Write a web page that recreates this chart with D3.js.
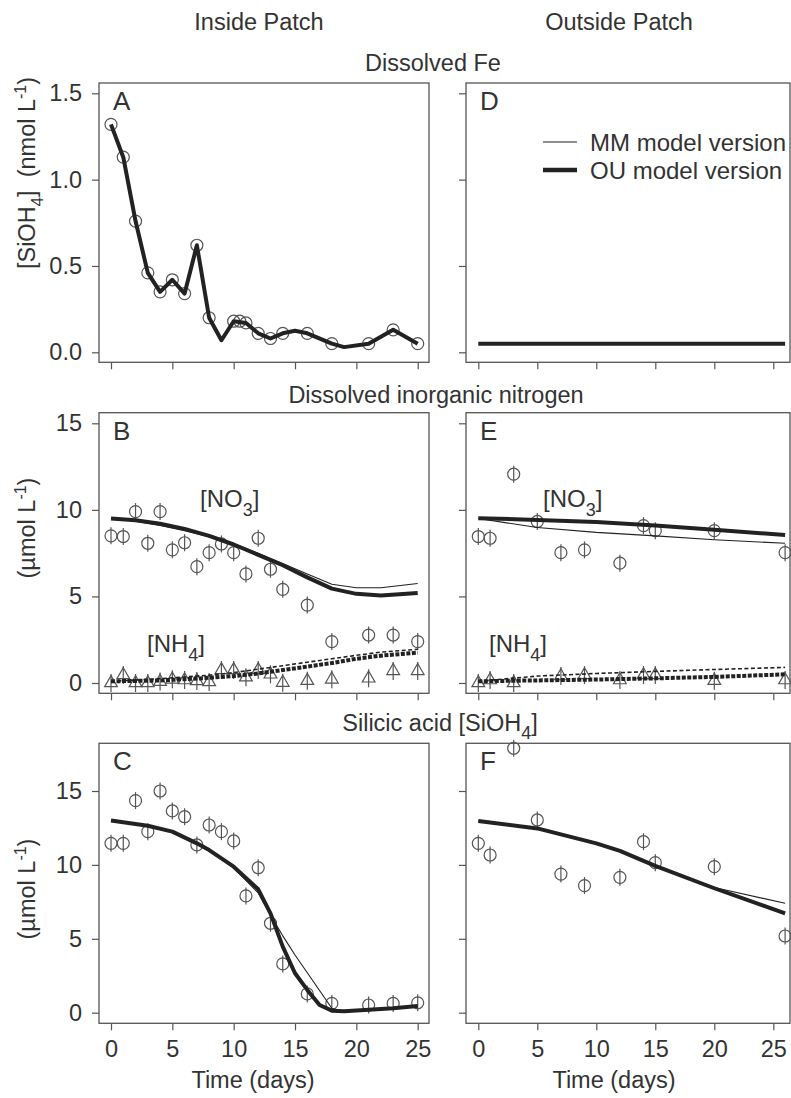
<!DOCTYPE html>
<html><head><meta charset="utf-8">
<script src="https://cdn.jsdelivr.net/npm/d3@7"></script>
<style>
body{margin:0;background:#fff;}
text{font-family:"Liberation Sans",Arial,Helvetica,sans-serif;fill:#333;}
</style></head>
<body><svg id="c" width="791" height="1098"></svg>
<script>
// ---------- DATA ----------
const xTicks = [0,5,10,15,20,25];
const feTicks = [0,0.5,1,1.5];
const nTicks = [0,5,10,15];
const siTicks = [0,5,10,15];

// Panel A: dissolved Fe inside patch
const feInObsDay = [0,1,2,3,4,5,6,7,8,10,10.5,11,12,13,14,16,18,21,23,25];
const feInObs    = [1.32,1.13,0.76,0.46,0.35,0.42,0.34,0.62,0.20,0.18,0.18,0.17,0.11,0.08,0.11,0.11,0.05,0.05,0.13,0.05];
const feInModDay = [0,1,2,3,4,5,6,7,8,9,10,11,12,13,14,15,16,18,19,21,23,25];
const feInOU     = [1.32,1.13,0.76,0.46,0.35,0.42,0.34,0.62,0.20,0.07,0.18,0.17,0.11,0.08,0.11,0.125,0.11,0.05,0.03,0.05,0.13,0.05];
// Panel D: dissolved Fe outside patch
const feOutModDay = [0,26];
const feOutOU     = [0.05,0.05];

// Panel B: nitrogen inside
const no3InDay = [0,1,2,3,4,5,6,7,8,9,10,11,12,13,14,16,18,21,23,25];
const no3InObs = [8.5,8.46,9.9,8.07,9.9,7.69,8.1,6.72,7.53,8.03,7.53,6.3,8.36,6.57,5.41,4.5,2.39,2.77,2.77,2.39];
const nh4InDay = [0,1,2,3,4,5,6,7,8,9,10,11,12,13,14,16,18,21,23,25];
const nh4InObs = [0.0,0.46,0.0,0.0,0.08,0.21,0.17,0.12,0.06,0.75,0.75,0.33,0.75,0.5,0.02,0.13,0.21,0.27,0.7,0.7];
const nInModDay = [0,2,4,6,8,10,12,14,16,18,20,22,25];
const no3InOU = [9.5,9.4,9.2,8.9,8.5,8.0,7.4,6.8,6.1,5.45,5.15,5.05,5.2];
const no3InMM = [9.5,9.35,9.1,8.8,8.45,8.05,7.5,6.9,6.3,5.7,5.5,5.5,5.75];
const nh4InOU = [0.1,0.12,0.15,0.22,0.3,0.4,0.55,0.75,0.95,1.15,1.4,1.58,1.75];
const nh4InMM = [0.1,0.17,0.25,0.35,0.45,0.6,0.8,1.0,1.2,1.4,1.6,1.78,1.95];

// Panel E: nitrogen outside
const no3OutDay = [0,1,3,5,7,9,12,14,15,20,26];
const no3OutObs = [8.46,8.36,12.06,9.33,7.53,7.69,6.92,9.09,8.8,8.8,7.53];
const nh4OutDay = [0,1,3,7,9,12,14,15,20,26];
const nh4OutObs = [0.0,0.17,0.0,0.4,0.46,0.17,0.46,0.46,0.13,0.17];
const nOutModDay = [0,5,10,15,20,26];
const no3OutOU = [9.52,9.42,9.3,9.1,8.85,8.55];
const no3OutMM = [9.5,8.98,8.7,8.5,8.27,8.07];
const nh4OutOU = [0.1,0.15,0.2,0.27,0.35,0.5];
const nh4OutMM = [0.1,0.4,0.55,0.67,0.78,0.9];

// Panel C: silicic acid inside
const siInDay = [0,1,2,3,4,5,6,7,8,9,10,11,12,13,14,16,18,21,23,25];
const siInObs = [11.46,11.46,14.35,12.25,15.0,13.65,13.26,11.35,12.7,12.25,11.62,7.9,9.81,6.05,3.3,1.27,0.63,0.52,0.63,0.67];
const siInModDay = [0,3,5,7,8,10,12,13,14,15,16,17,18,19,21,23,25];
const siInOU = [13.0,12.65,12.25,11.46,11.0,9.88,8.35,6.72,4.47,2.67,1.54,0.52,0.14,0.1,0.2,0.3,0.45];
const siInMM = [13.0,12.65,12.25,11.46,11.0,9.8,8.1,6.6,5.2,3.9,2.7,1.5,0.3,0.1,0.2,0.3,0.45];

// Panel F: silicic acid outside
const siOutDay = [0,1,3,5,7,9,12,14,15,20,26];
const siOutObs = [11.46,10.67,17.89,13.04,9.38,8.6,9.16,11.57,10.15,9.88,5.19];
const siOutModDay = [0,5,10,12,15,20,26];
const siOutOU = [12.97,12.47,11.46,10.95,9.93,8.42,6.72];
const siOutMM = [12.97,12.47,11.46,10.95,9.93,8.47,7.4];

// ---------- LAYOUT ----------
const svg = d3.select("#c");
const FONT = 23.5;
const cols = {
  L:{x:d3.scaleLinear().domain([0,25]).range([111,417.7]), x0:99, x1:429},
  R:{x:d3.scaleLinear().domain([0,25]).range([478.3,773.3]), x0:466, x1:790}
};
const rows = {
  A:{y:d3.scaleLinear().domain([0,1.5]).range([352.3,93.3]), y0:83, y1:362.3, ticks:feTicks, fmt:d3.format(".1f")},
  B:{y:d3.scaleLinear().domain([0,15]).range([683,423.3]), y0:412.7, y1:693.3, ticks:nTicks, fmt:d3.format("d")},
  C:{y:d3.scaleLinear().domain([0,15]).range([1012.7,791]), y0:743.3, y1:1023.3, ticks:siTicks, fmt:d3.format("d")}
};

function panel(col,row,letter,yLabels,xLabels){
  const c=cols[col], r=rows[row];
  const g=svg.append("g");
  const ya=g.append("g").attr("transform",`translate(${c.x0},0)`)
    .call(d3.axisLeft(r.y).tickValues(r.ticks).tickSize(7).tickPadding(10).tickFormat(yLabels?r.fmt:""));
  const xa=g.append("g").attr("transform",`translate(0,${r.y1})`)
    .call(d3.axisBottom(c.x).tickValues(xTicks).tickSize(7).tickPadding(10).tickFormat(xLabels?d3.format("d"):""));
  [ya,xa].forEach(a=>{
    a.select(".domain").remove();
    a.selectAll("line").attr("stroke","#555").attr("stroke-width",1.2);
    a.selectAll("text").style("font-size",FONT+"px").attr("fill","#333");
  });
  g.append("rect").attr("x",c.x0).attr("y",r.y0).attr("width",c.x1-c.x0).attr("height",r.y1-r.y0)
    .attr("fill","none").attr("stroke","#555").attr("stroke-width",1.3);
  g.append("text").attr("x",c.x0+14).attr("y",r.y0+27).style("font-size","26px").text(letter);
  return {g,x:c.x,y:r.y};
}

function line(p,days,vals,w,dash){
  const data=days.map((d,i)=>[d,vals[i]]);
  p.g.append("path").datum(data)
    .attr("d",d3.line().x(d=>p.x(d[0])).y(d=>p.y(d[1])))
    .attr("fill","none").attr("stroke","#222").attr("stroke-width",w)
    .attr("stroke-linejoin","round").attr("stroke-dasharray",dash||null);
}
function circles(p,days,vals,bar){
  const data=days.map((d,i)=>[d,vals[i]]);
  const s=p.g.append("g").selectAll("g").data(data).join("g")
    .attr("transform",d=>`translate(${p.x(d[0])},${p.y(d[1])})`);
  s.append("circle").attr("r",6).attr("fill","none").attr("stroke","#555").attr("stroke-width",1.2);
  if(bar) s.append("line").attr("y1",-8.5).attr("y2",8.5).attr("stroke","#555").attr("stroke-width",1.2);
}
function triangles(p,days,vals){
  const data=days.map((d,i)=>[d,vals[i]]);
  const s=p.g.append("g").selectAll("g").data(data).join("g")
    .attr("transform",d=>`translate(${p.x(d[0])},${p.y(d[1])})`);
  s.append("path").attr("d",d3.symbol(d3.symbolTriangle,70)()).attr("fill","none").attr("stroke","#555").attr("stroke-width",1.2);
  s.append("line").attr("y1",-9).attr("y2",9).attr("stroke","#555").attr("stroke-width",1.2);
}
function chemLabel(p,x,y,main,sub){
  const t=p.g.append("text").attr("x",x).attr("y",y).style("font-size","24px");
  t.append("tspan").text("["+main);
  t.append("tspan").attr("dy",9).style("font-size","18px").text(sub);
  t.append("tspan").attr("dy",-9).text("]");
}

const pA=panel("L","A","A",true,false);
circles(pA,feInObsDay,feInObs,false);
line(pA,feInModDay,feInOU,4);

const pD=panel("R","A","D",false,false);
line(pD,feOutModDay,feOutOU,4);

const pB=panel("L","B","B",true,false);
circles(pB,no3InDay,no3InObs,true);
triangles(pB,nh4InDay,nh4InObs);
line(pB,nInModDay,no3InMM,1.1);
line(pB,nInModDay,no3InOU,4);
line(pB,nInModDay,nh4InMM,1.6,"4,2.5");
line(pB,nInModDay,nh4InOU,4,"4,1.5");
chemLabel(pB,200,507,"NO","3");
chemLabel(pB,147,652,"NH","4");

const pE=panel("R","B","E",false,false);
circles(pE,no3OutDay,no3OutObs,true);
triangles(pE,nh4OutDay,nh4OutObs);
line(pE,nOutModDay,no3OutMM,1.1);
line(pE,nOutModDay,no3OutOU,4);
line(pE,nOutModDay,nh4OutMM,1.6,"4,2.5");
line(pE,nOutModDay,nh4OutOU,4,"4,1.5");
chemLabel(pE,543,507,"NO","3");
chemLabel(pE,489,652,"NH","4");

const pC=panel("L","C","C",true,true);
circles(pC,siInDay,siInObs,true);
line(pC,siInModDay,siInMM,1.1);
line(pC,siInModDay,siInOU,4);

const pF=panel("R","C","F",false,true);
circles(pF,siOutDay,siOutObs,true);
line(pF,siOutModDay,siOutMM,1.1);
line(pF,siOutModDay,siOutOU,4);

// Legend in D
const legend=[{label:"MM model version",w:1.1},{label:"OU model version",w:4.5}];
const lg=svg.append("g");
legend.forEach((d,i)=>{
  const yy=142+i*28;
  lg.append("line").attr("x1",543).attr("x2",577).attr("y1",yy).attr("y2",yy).attr("stroke","#222").attr("stroke-width",d.w);
  lg.append("text").attr("x",590).attr("y",yy+8.5).style("font-size","24px").text(d.label);
});

function title(x,y,txt){return svg.append("text").attr("x",x).attr("y",y).attr("text-anchor","middle").style("font-size",FONT+"px").text(txt);}
title(259,30,"Inside Patch");
title(619,30,"Outside Patch");
title(433,71,"Dissolved Fe");
title(436,403,"Dissolved inorganic nitrogen");
const si=title(440,731,"Silicic acid [SiOH");
si.append("tspan").attr("dy",8).style("font-size","18px").text("4");
si.append("tspan").attr("dy",-8).text("]");

title(253,1088,"Time (days)");
title(614,1088,"Time (days)");

function ytitle(cy,parts){
  const t=svg.append("text").attr("transform",`translate(35,${cy}) rotate(-90)`).attr("text-anchor","middle").style("font-size",FONT+"px");
  parts.forEach(p=>{
    const ts=t.append("tspan").text(p.t);
    if(p.dy) ts.attr("dy",p.dy);
    if(p.s) ts.style("font-size",p.s+"px");
  });
}
ytitle(173,[{t:"[SiOH"},{t:"4",dy:8,s:17},{t:"]\u00a0\u00a0(nmol L",dy:-8},{t:"-1",dy:-9,s:16},{t:")",dy:9}]);
ytitle(528,[{t:"(\u00b5mol L"},{t:"-1",dy:-9,s:16},{t:")",dy:9}]);
ytitle(889,[{t:"(\u00b5mol L"},{t:"-1",dy:-9,s:16},{t:")",dy:9}]);
</script></body></html>
